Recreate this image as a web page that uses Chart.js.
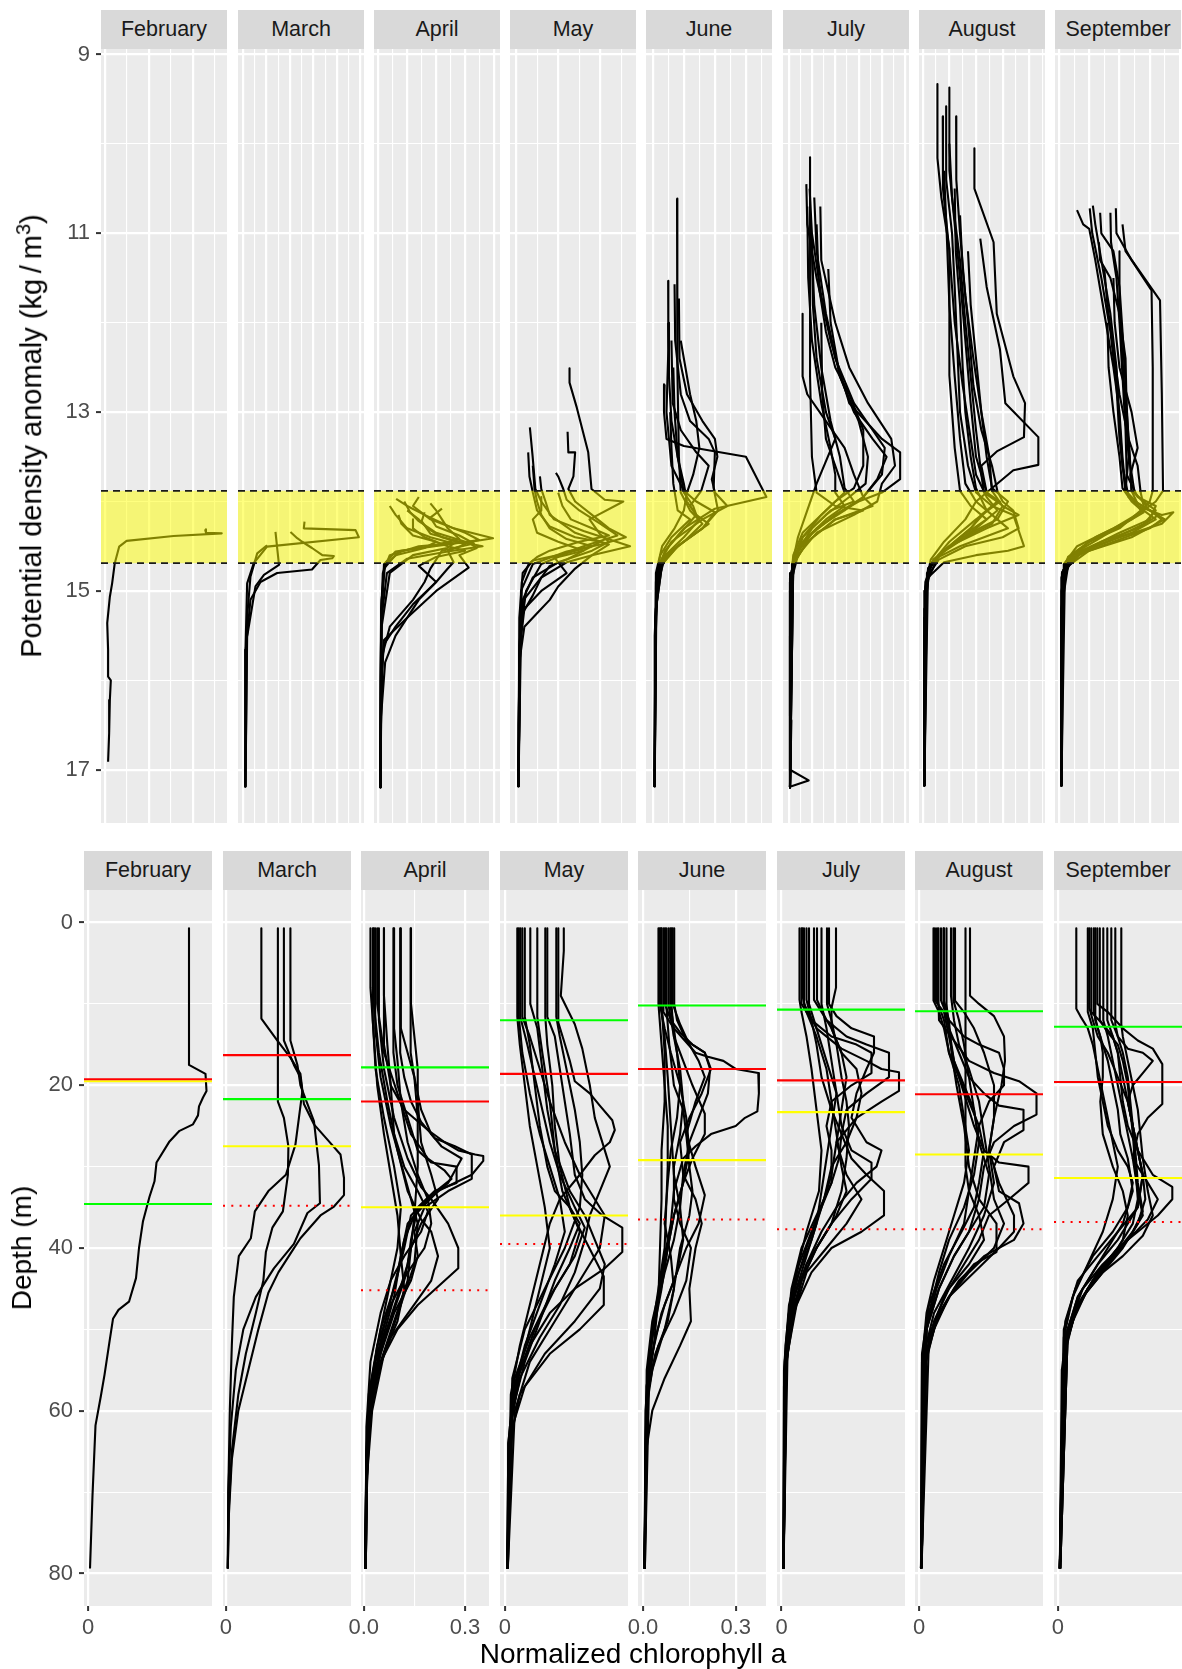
<!DOCTYPE html>
<html>
<head>
<meta charset="utf-8">
<script src="https://cdn.jsdelivr.net/npm/chart.js@4.4.1/dist/chart.umd.min.js"></script>
<style>
  body { margin: 0; background: #ffffff; width: 1182px; height: 1669px; position: relative; overflow: hidden;
         font-family: "Liberation Sans", Arial, Helvetica, sans-serif; }
  canvas { position: absolute; }
  .strip { position: absolute; background: #d9d9d9; color: #1a1a1a; font-size: 21.5px; text-align: center;
           height: 39px; line-height: 39px; white-space: nowrap; overflow: hidden; }
  .title { position: absolute; color: #000000; font-size: 28px; white-space: nowrap; }
  .title.big { font-size: 29px; }
  .title sup { font-size: 20px; }
</style>
</head>
<body>
<script>
// ---------- categories ----------
const months = ['February', 'March', 'April', 'May', 'June', 'July', 'August', 'September'];

// ---------- tick labels ----------
const densityTicks = [9, 11, 13, 15, 17];
const densityMinorTicks = [10, 12, 14, 16];
const depthTicks = [0, 20, 40, 60, 80];
const depthMinorTicks = [10, 30, 50, 70];
// labelled chlorophyll breaks on the lower row, per month
const chlBreaks = [[0], [0], [0, 0.3], [0], [0, 0.3], [0], [0], [0]];

// ---------- axis limits ----------
const densityRange = [8.9385, 17.596];
const depthRange = [-4, 84];
const chlRange = [[-0.008, 0.248], [-0.0056, 0.25], [-0.008, 0.371], [-0.0096, 0.2464],
                  [-0.0162, 0.398], [-0.009, 0.247], [-0.008, 0.248], [-0.0076, 0.2484]];
const sigChlRange = [[-0.0047, 0.139], [-0.011, 0.258], [-0.0072, 0.21], [-0.007, 0.142],
                     [-0.011, 0.192], [-0.012, 0.258], [-0.007, 0.2295], [-0.0066, 0.2017]];
const sigChlStep = [0.05, 0.05, 0.05, 0.05, 0.05, 0.05, 0.05, 0.05];

// ---------- density band (kg/m3) ----------
const bandLow = 13.88;
const bandHigh = 14.69;

// ---------- reference depths (m) ----------
const greenDepth  = [34.6, 21.7, 17.8, 12.0, 10.2, 10.7, 10.9, 12.8];
const redDepth    = [19.26, 16.3, 22.0, 18.6, 18.0, 19.4, 21.1, 19.6];
const yellowDepth = [19.5, 27.5, 35.0, 36.0, 29.2, 23.3, 28.5, 31.4];
const dottedDepth = [34.6, 34.8, 45.2, 39.5, 36.5, 37.7, 37.7, 36.8];

// ---------- chlorophyll profiles vs depth: [chl, depth, chl, depth, ...] ----------
const chlFeb = [
  [.202,0.7, .202,17.5, .235,18.6, .237,20.7, .23,21.5, .222,22.6, .22,23.7, .21,24.8, .183,25.6, .163,26.9, .137,29.5, .133,31.8, .123,33.7, .11,36.7, .102,40, .096,43.7, .082,46.6, .061,47.6, .05,48.7, .043,51.5, .033,55.6, .026,58.1, .015,61.8, .009,70.4, .004,79.4]
];
const chlMar = [
  [.071,0.7, .071,11.8, .103,14.5, .129,16.6, .149,18.6, .153,20.7, .146,24, .139,27.3, .12,31, .085,33, .058,35.5, .05,38.8, .026,41, .016,46, .012,52, .008,60, .005,70, .004,79.4],
  [.104,0.7, .104,22, .116,24, .125,27.5, .124,31, .114,35.5, .093,37.5, .08,40.5, .075,44, .06,48, .04,53, .025,58, .012,65, .006,72, .004,79.4],
  [.116,0.7, .116,14.5, .136,17.5, .149,19, .156,22.3, .176,24.8, .206,26.9, .229,28.5, .236,31.4, .236,33.5, .216,34.9, .189,36, .149,38.8, .131,40.5, .105,43, .085,45.5, .065,50, .045,55, .025,60, .012,66, .006,73, .004,79.4],
  [.129,0.7, .129,14.5, .143,17.5, .149,20, .163,22.3, .176,24.4, .186,29.8, .188,34.5, .163,35.7, .136,39.5, .096,42.5, .06,46, .035,50, .02,55, .01,62, .005,70, .004,79.4]
];
const chlApr = [
  [.027,.7, .027,12, .035,18, .06,24, .09,30, .11,35, .1,40, .07,46, .04,52, .02,58, .01,65, .006,79.4],
  [.034,.7, .034,13, .05,19, .08,25, .12,31, .16,37, .15,42, .11,47, .06,53, .025,60, .01,68, .006,79.4],
  [.040,.7, .040,10, .06,16, .1,21, .14,26, .19,29, .24,30.5, .26,31.5, .2,33.5, .14,36, .12,40, .09,45, .05,50, .02,57, .008,65, .005,79.4],
  [.060,.7, .060,15, .08,20, .12,23, .19,25.5, .24,27, .28,28, .33,28.5, .354,28.7, .354,29.3, .32,31, .22,33, .15,36, .12,39, .1,43, .07,48, .035,54, .015,60, .007,70, .005,79.4],
  [.088,.7, .088,16, .1,20, .13,24, .16,28, .2,29.5, .275,30, .275,32, .21,33, .16,35, .14,39, .13,42, .1,46, .06,51, .03,56, .012,63, .006,79.4],
  [.108,.7, .108,16, .12,19, .14,22, .17,24.5, .21,26.5, .27,27.5, .32,28.5, .32,31.5, .25,33, .18,35, .15,38, .16,41, .14,44, .09,48, .05,53, .02,59, .008,68, .005,79.4],
  [.139,.7, .139,16, .15,19, .16,24, .16,30, .15,36, .14,40, .13,44, .09,49, .05,54, .02,60, .008,70, .005,79.4],
  [.030,.7, .030,10, .045,16, .07,22, .1,28, .13,33, .17,36.5, .2,38, .22,41, .2,44, .14,47.5, .08,51, .035,56, .012,63, .006,79.4],
  [.045,.7, .045,12, .06,18, .09,24, .13,29, .17,32.5, .2,34, .25,37, .28,40, .28,42.5, .24,44, .16,47, .1,50, .05,54, .02,60, .007,70, .005,79.4],
  [.09,.7, .09,13, .1,17, .11,22, .13,27, .16,31, .19,34, .2,37, .18,40, .13,43, .08,47, .04,52, .015,58, .007,68, .005,79.4],
  [.11,.7, .11,13, .13,16, .15,19, .17,23, .2,26, .23,27.5, .29,29, .25,32, .18,34.5, .13,37, .11,41, .12,45, .1,49, .06,53, .03,57, .01,63, .005,79.4],
  [.06,.7, .06,9, .07,15, .08,20, .09,26, .12,30, .16,33, .19,35.5, .17,38, .12,41, .08,44, .05,48, .02,54, .008,62, .005,79.4],
  [.02,.7, .02,8, .03,14, .04,20, .06,26, .08,31, .1,36, .11,41, .09,46, .05,52, .02,58, .008,66, .004,79.4],
  [.14,.7, .14,10, .15,14, .16,18, .16,22, .17,27, .2,31, .22,34, .17,37, .14,40, .12,44, .07,50, .03,56, .01,62, .005,79.4]
];
const chlMay = [
  [.025,.7, .025,11.6, .03,15, .04,20, .05,25, .065,30, .08,35, .09,40, .07,45, .05,50, .03,55, .012,62, .005,79.4],
  [.028,.7, .028,11.6, .035,16, .05,21, .07,26, .09,30, .11,34, .12,38, .1,42, .07,47, .04,52, .015,58, .006,79.4],
  [.031,.7, .031,11.6, .045,15, .06,19, .075,23, .09,27, .11,31, .14,35, .16,37.5, .14,41, .1,45, .06,50, .025,56, .008,64, .005,79.4],
  [.035,.7, .035,11.6, .05,14, .07,18, .09,22, .12,27, .15,31, .18,34, .2,36, .19,40, .15,44, .1,49, .05,54, .02,60, .006,79.4],
  [.051,.7, .051,10, .065,13, .075,18, .085,23, .1,28, .13,33, .16,36, .18,39, .2,42, .19,45, .14,49, .08,53, .03,58, .01,64, .005,79.4],
  [.081,.7, .081,11.6, .085,15, .095,20, .1,25, .11,30, .13,35, .15,38, .13,42, .09,46, .05,51, .02,56, .007,64, .005,79.4],
  [.085,.7, .085,11.6, .1,14, .11,18, .12,22, .13,26, .14,31, .16,34, .195,36, .235,37.5, .235,40.5, .2,42.5, .14,45, .09,48, .05,52, .02,57, .007,64, .005,79.4],
  [.103,.7, .103,11.6, .11,14, .12,17, .13,20, .14,23, .15,27, .155,31, .15,35, .12,40, .08,45, .04,50, .015,56, .006,79.4],
  [.107,.7, .107,12.3, .118,14.5, .13,17, .14,19.5, .17,21, .19,22.5, .215,24.3, .22,25.5, .21,27, .18,28.6, .15,31, .11,34, .09,37, .07,42, .05,47, .03,52, .012,58, .005,79.4],
  [.118,.7, .118,3.5, .112,9, .14,12.5, .155,15.5, .17,20, .18,24, .2,28, .21,30, .19,33, .17,36, .16,39, .14,43, .11,47, .07,51, .03,56, .01,62, .005,79.4],
  [.04,.7, .04,11.6, .05,15, .06,20, .07,25, .085,30, .1,33, .13,35, .15,37, .13,40, .1,44, .07,49, .04,54, .015,60, .005,79.4],
  [.065,.7, .065,11.6, .075,16, .09,22, .1,28, .115,33, .14,36.5, .198,43.5, .198,47, .15,50, .09,53, .04,57, .015,62, .005,79.4]
];
const chlJun = [
  [.05,.7, .05,10, .06,15, .07,20, .08,25, .08,30, .075,35, .07,40, .05,45, .03,50, .015,56, .008,64, .005,79.4],
  [.054,.7, .054,10, .07,13, .09,16, .12,20, .14,24, .15,28, .13,32, .1,36, .08,40, .06,45, .03,51, .012,57, .005,79.4],
  [.066,.7, .066,11, .1,13, .17,16, .21,16.5, .26,17, .3,18, .373,18.5, .375,21, .37,23.2, .33,24, .3,25, .22,26, .17,27.5, .13,29, .1,33, .09,37, .07,41, .05,46, .03,51, .012,57, .005,79.4],
  [.071,.7, .071,10, .09,12, .12,13.5, .16,15, .2,16, .217,18, .21,21, .18,24, .15,27, .13,31, .12,35, .1,39, .07,43, .04,48, .02,54, .008,60, .005,79.4],
  [.082,.7, .082,10, .1,14, .12,18, .13,22, .12,26, .1,30, .1,34, .12,37, .155,40, .14,44, .1,48, .05,52, .02,56, .006,79.4],
  [.092,.7, .092,10, .1,14, .13,17, .16,20, .2,23.5, .2,26, .16,29, .13,32, .1,36, .08,40, .06,44, .03,49, .012,55, .005,79.4],
  [.101,.7, .101,10, .11,12, .14,14.5, .2,16, .22,18, .19,21, .15,24, .12,27, .13,31, .17,34, .19,37, .17,40, .15,45, .155,49, .12,52, .07,56, .03,60, .01,65, .005,79.4],
  [.06,.7, .06,10, .07,16, .07,22, .06,28, .06,34, .055,40, .05,46, .035,52, .015,58, .006,79.4],
  [.075,.7, .075,10, .085,15, .1,20, .13,23, .14,26, .15,30, .16,33, .15,36, .12,40, .1,45, .07,50, .03,55, .01,60, .005,79.4],
  [.088,.7, .088,10, .1,13, .11,16, .12,20, .11,24, .09,28, .08,32, .07,37, .09,41, .1,45, .08,49, .04,53, .015,58, .005,79.4],
  [.096,.7, .096,10, .12,12.5, .15,15, .18,17, .2,19, .17,22, .14,26, .17,30, .2,33.5, .18,37, .14,40, .1,44, .06,48, .03,53, .01,59, .005,79.4],
  [.058,.7, .058,10, .07,14, .08,19, .09,25, .1,31, .12,35, .13,39, .11,43, .07,47, .04,51, .015,56, .005,79.4]
];
const chlJul = [
  [.036,.7, .036,9.5, .04,11, .05,14, .06,18, .07,23, .08,28, .075,33, .05,38, .03,43, .015,48, .006,55, .004,79.4],
  [.04,.7, .04,10, .06,12, .1,14, .15,15, .18,16, .18,18.5, .14,20, .1,22, .09,25, .1,28, .1,32, .07,36, .04,40, .02,45, .008,52, .004,79.4],
  [.045,.7, .045,10, .07,13, .12,15.5, .17,17, .2,18, .235,18.4, .235,20.7, .2,22, .15,24, .11,27, .1,31, .08,35, .05,40, .025,45, .01,52, .004,79.4],
  [.055,.7, .055,10, .07,13, .09,17, .11,21, .12,25, .14,28, .18,29.5, .18,31.5, .14,34, .1,37, .07,40, .04,44, .02,49, .008,55, .004,79.4],
  [.071,.7, .071,9.5, .09,12, .13,14, .17,15, .215,16, .215,19, .17,21, .13,23, .12,26, .14,29, .17,31, .205,33, .205,36, .16,38, .1,40, .06,43, .03,47, .012,53, .004,79.4],
  [.091,.7, .091,10, .1,12, .11,15, .12,19, .13,22, .135,25, .13,29, .12,33, .1,37, .07,40, .04,44, .02,49, .007,56, .004,79.4],
  [.095,.7, .095,10, .11,11.5, .14,13, .185,14, .185,16, .17,18, .15,21, .14,24, .17,27, .2,28, .19,30, .15,32, .11,35, .08,38, .05,42, .025,47, .01,53, .004,79.4],
  [.109,.7, .109,8, .1,10.5, .1,13, .12,16, .15,18, .16,21, .15,24, .13,27, .1,30, .085,34, .06,38, .035,42, .015,47, .006,54, .004,79.4],
  [.05,.7, .05,9.5, .06,12, .07,15, .08,19, .1,23, .12,26, .115,29, .1,32, .08,35, .06,39, .035,43, .015,48, .005,55, .004,79.4],
  [.065,.7, .065,9.5, .08,11, .1,13, .12,16, .13,19, .12,23, .11,27, .13,31, .16,34, .13,37, .09,40, .05,43, .025,48, .01,54, .004,79.4],
  [.08,.7, .08,10, .09,13, .1,17, .11,21, .1,25, .09,29, .08,33, .07,37, .05,41, .03,45, .012,50, .005,57, .004,79.4],
  [.042,.7, .042,9, .05,11, .07,14, .09,18, .1,22, .11,26, .12,30, .13,33, .11,36, .08,39, .05,42, .025,46, .01,52, .004,79.4]
];
const chlAug = [
  [.029,.7, .029,9.6, .04,11, .05,13, .06,16, .08,20, .09,24, .1,28, .09,32, .07,36, .05,40, .03,44, .015,48, .006,54, .004,79.4],
  [.032,.7, .032,9.6, .05,11, .06,14, .07,17, .09,20, .11,23, .12,27, .14,31, .13,35, .1,38, .07,41, .04,45, .015,50, .005,79.4],
  [.039,.7, .039,9.6, .04,12, .07,14.5, .1,17, .15,18.5, .2,19.5, .235,21, .235,23.6, .19,25, .15,27, .13,30, .12,34, .1,38, .07,41, .04,45, .015,50, .005,79.4],
  [.044,.7, .044,9.6, .06,12, .09,14, .12,15, .16,16, .17,18, .17,20, .14,22, .12,25, .11,29, .1,33, .09,37, .06,41, .035,45, .015,50, .005,79.4],
  [.049,.7, .049,10, .06,13, .08,16, .1,19, .13,21, .16,22.5, .209,23, .209,25.5, .17,27, .15,30, .16,33, .2,34.5, .209,37, .19,39, .13,41, .08,44, .04,48, .015,53, .005,79.4],
  [.055,.7, .055,10, .06,13, .07,17, .09,21, .11,25, .13,28, .16,29.5, .219,30, .219,32, .18,34, .14,36, .12,39, .09,42, .05,46, .02,51, .005,79.4],
  [.064,.7, .064,9, .07,12, .08,15, .1,18, .12,22, .13,26, .14,30, .15,34, .17,37, .15,40, .1,43, .06,46, .03,50, .01,55, .004,79.4],
  [.069,.7, .069,9.6, .08,12, .09,15, .1,19, .11,23, .12,27, .11,31, .09,35, .06,39, .04,43, .02,48, .007,54, .004,79.4],
  [.072,.7, .072,9.6, .09,11, .11,13, .13,16, .15,20, .15,24, .14,28, .16,32, .19,36, .19,38, .16,40, .11,43, .06,46, .025,50, .008,56, .004,79.4],
  [.093,.7, .093,30, .1,33, .12,36, .13,39, .1,42, .06,45, .03,49, .01,54, .004,79.4],
  [.102,.7, .102,9, .12,10, .15,11.5, .17,14, .172,17, .165,20, .15,24, .14,28, .15,32, .13,36, .1,40, .065,44, .03,48, .01,53, .004,79.4],
  [.036,.7, .036,9.6, .05,12, .06,16, .08,19, .1,22, .12,25, .13,28, .12,32, .11,35, .085,38, .05,42, .02,47, .006,53, .004,79.4],
  [.05,.7, .05,9.6, .06,12, .065,16, .075,20, .09,25, .1,30, .12,34, .155,37, .155,40.5, .11,42, .07,45, .035,49, .012,54, .004,79.4]
];
const chlSep = [
  [.037,.7, .037,10.6, .045,11.5, .06,13, .07,15, .08,18, .09,21, .1,24, .11,27, .12,30, .11,34, .09,38, .06,42, .03,46, .012,51, .004,79.4],
  [.063,.7, .063,10.5, .07,12, .08,14, .1,16, .12,19, .14,22, .15,25, .16,28, .17,31, .16,35, .12,39, .08,42, .04,46, .015,51, .004,79.4],
  [.067,.7, .067,11, .09,12.5, .11,14, .12,16, .125,19, .13,22, .14,25, .16,28, .19,31, .229,32.5, .229,34, .2,36, .16,38, .12,40, .08,43, .04,47, .015,52, .004,79.4],
  [.072,.7, .072,11, .08,13, .09,15, .1,17, .11,20, .12,23, .125,26, .14,29, .15,33, .13,37, .1,40, .07,43, .04,46, .015,51, .004,79.4],
  [.079,.7, .079,10, .1,11, .13,13, .16,14.5, .19,15.5, .209,17.4, .209,22.3, .18,24, .16,26, .15,29, .16,33, .17,36, .14,39, .1,42, .06,45, .025,49, .008,55, .004,79.4],
  [.084,.7, .084,12, .1,13.5, .12,15, .13,17, .14,20, .145,23, .15,26, .155,30, .16,34, .15,37, .12,40, .08,43, .04,47, .015,52, .004,79.4],
  [.091,.7, .091,12, .1,14, .11,17, .12,20, .13,23, .14,26, .15,29, .18,32, .2,34, .18,36.5, .14,39, .09,42, .05,45, .02,50, .005,79.4],
  [.099,.7, .099,12, .11,14, .12,16, .13,19, .14,22, .15,25, .16,28, .17,31, .175,34, .16,37, .13,40, .09,43, .05,46, .02,50, .005,79.4],
  [.107,.7, .107,12, .12,14, .14,15.5, .17,16, .19,17, .17,18.5, .15,20, .14,22, .15,25, .16,28, .17,31, .16,35, .12,38, .08,41, .04,44, .015,49, .005,79.4],
  [.115,.7, .115,12.5, .12,14, .13,16, .14,19, .145,22, .15,25, .155,28, .16,32, .17,35.5, .15,38, .11,41, .07,44, .035,48, .012,53, .004,79.4],
  [.127,.7, .127,12.5, .13,14, .14,17, .15,20, .16,23, .165,26, .17,29, .18,33, .19,36, .17,38.5, .13,41, .09,43, .05,46, .02,50, .005,79.4],
  [.075,.7, .075,12, .085,14, .09,16, .09,19, .085,22, .09,26, .11,30, .13,33, .14,36, .13,39, .1,42, .06,45, .03,49, .01,54, .004,79.4],
  [.06,.7, .06,11, .07,13, .075,16, .08,19, .09,22, .1,25, .12,28, .14,30, .15,32, .14,35, .11,38, .07,41, .035,45, .012,50, .004,79.4]
];

// ---------- chlorophyll profiles vs potential density anomaly: [chl, sigma, ...] ----------
const sigFeb = [
  [.114,14.31, .115,14.35, .133,14.356, .078,14.386, .0245,14.44, .016,14.505, .011,14.69, .008,14.915, .0054,15.065, .0024,15.36, .0034,15.66, .0034,15.96, .0065,16.0, .0054,16.22, .0046,16.59, .0034,16.91]
];
const sigMar = [
  [.131,14.226, .1295,14.30, .24,14.32, .247,14.40, .051,14.505, .0227,14.69, .0085,14.915, .005,15.66, .005,17.19],
  [.069,14.34, .0765,14.71, .0444,14.82, .0263,14.95, .0085,15.51, .005,17.19],
  [.101,14.34, .1154,14.41, .126,14.45, .147,14.52, .169,14.60, .1936,14.61, .19,14.635, .165,14.655, .147,14.76, .0726,14.80, .037,14.90, .0156,15.10, .0055,15.66, .0043,17.19],
  [.051,14.49, .03,14.58, .0156,14.84, .0085,15.29, .0049,17.19]
];
const sigApr = [
  [.031,13.97, .05,14.05, .08,14.15, .13,14.3, .198,14.41, .16,14.45, .07,14.5, .02,14.6, .008,14.8, .005,15.3, .004,16.5, .004,17.2],
  [.07,13.95, .06,14.05, .09,14.2, .15,14.35, .174,14.43, .12,14.48, .04,14.55, .012,14.7, .006,15.1, .004,16, .004,17.2],
  [.045,14.0, .055,14.12, .07,14.22, .1,14.35, .156,14.46, .17,14.52, .14,14.6, .156,14.74, .10,15.0, .05,15.3, .01,15.55, .005,16, .004,17.2],
  [.09,14.02, .1,14.1, .11,14.2, .12,14.3, .14,14.42, .09,14.5, .03,14.56, .01,14.7, .005,15.5, .004,17.2],
  [.02,14.05, .03,14.15, .05,14.3, .09,14.4, .13,14.47, .119,14.52, .06,14.6, .02,14.8, .006,15.4, .004,17.2],
  [.11,14.08, .09,14.18, .1,14.28, .14,14.38, .165,14.47, .11,14.55, .09,14.75, .08,14.9, .06,15.1, .02,15.4, .008,15.7, .005,16.5, .004,17.2],
  [.05,14.1, .07,14.2, .085,14.3, .11,14.4, .15,14.48, .12,14.55, .13,14.68, .12,14.75, .1,14.9, .06,15.15, .03,15.4, .01,15.6, .005,16, .004,17.2],
  [.035,14.15, .04,14.25, .06,14.38, .1,14.45, .08,14.52, .03,14.6, .01,14.75, .005,15.2, .004,17.2],
  [.08,14.12, .075,14.22, .09,14.36, .14,14.45, .18,14.5, .12,14.56, .05,14.64, .015,14.8, .006,15.3, .004,17.2],
  [.06,14.2, .06,14.3, .08,14.4, .12,14.5, .15,14.55, .1,14.62, .07,14.72, .1,14.9, .07,15.1, .03,15.5, .012,15.8, .005,16.4, .004,17.2]
];
const sigMay = [
  [.0634,12.51, .0634,12.67, .072,12.95, .0855,13.45, .0894,13.86, .105,13.98, .127,14.0, .087,14.2, .099,14.36, .11,14.45, .09,14.55, .05,14.68, .02,14.85, .008,15.1, .005,15.6, .003,16.5, .003,17.19],
  [.0165,13.17, .0197,13.49, .023,13.86, .03,14.0, .045,14.2, .08,14.33, .135,14.5, .09,14.6, .06,14.68, .03,14.85, .01,15.09, .005,15.6, .003,17.19],
  [.0145,13.45, .016,13.72, .02,13.9, .025,14.1, .04,14.28, .07,14.4, .1,14.45, .08,14.55, .05,14.62, .03,14.7, .012,15.0, .005,15.5, .003,17.19],
  [.0611,13.22, .062,13.45, .07,13.45, .068,13.72, .062,13.86, .07,14.0, .09,14.15, .11,14.3, .13,14.4, .1,14.48, .06,14.56, .02,14.7, .006,15.0, .003,17.19],
  [.0473,13.68, .05,13.72, .056,13.86, .06,13.98, .075,14.1, .1,14.25, .12,14.38, .08,14.5, .045,14.62, .06,14.8, .03,15.0, .01,15.2, .005,15.6, .003,17.19],
  [.0284,13.72, .03,13.86, .035,14.0, .04,14.15, .07,14.35, .11,14.48, .09,14.6, .07,14.75, .05,14.95, .04,15.1, .025,15.25, .01,15.4, .004,15.8, .003,17.19],
  [.02,13.6, .022,13.86, .025,14.0, .03,14.15, .04,14.3, .06,14.42, .09,14.5, .06,14.58, .02,14.66, .008,14.8, .004,15.3, .003,17.19],
  [.05,13.9, .055,14.05, .065,14.2, .09,14.3, .11,14.38, .075,14.45, .04,14.55, .025,14.62, .015,14.7, .007,14.9, .003,17.19],
  [.03,13.95, .03,14.1, .02,14.2, .025,14.35, .05,14.45, .08,14.55, .06,14.65, .04,14.72, .03,14.85, .02,15.05, .008,15.25, .004,15.6, .003,17.19]
];
const sigJun = [
  [.039,10.61, .039,11.5, .04,12.5, .042,13.5, .045,13.9, .06,14.1, .08,14.25, .05,14.45, .02,14.62, .008,14.9, .004,15.6, .003,17.19],
  [.0247,11.53, .025,12.3, .022,13.0, .03,13.6, .05,13.88, .07,14.0, .1,14.12, .08,14.3, .04,14.5, .015,14.7, .005,15.2, .003,17.19],
  [.035,11.57, .036,12.2, .045,12.8, .06,13.1, .09,13.3, .1,13.45, .098,13.85, .105,14.1, .08,14.3, .04,14.5, .015,14.7, .005,15.2, .003,17.19],
  [.042,11.73, .043,12.4, .055,12.8, .08,13.1, .1,13.3, .104,13.5, .095,13.75, .1,13.9, .12,14.05, .08,14.2, .03,14.45, .01,14.7, .004,15.3, .003,17.19],
  [.019,12.69, .018,13.0, .022,13.3, .05,13.38, .15,13.5, .183,13.95, .1,14.08, .05,14.3, .02,14.55, .008,14.8, .004,15.4, .003,17.19],
  [.03,12.2, .032,12.9, .045,13.2, .07,13.45, .09,13.6, .078,13.88, .06,14.05, .075,14.2, .05,14.4, .02,14.6, .006,14.9, .003,17.19],
  [.0247,12.0, .026,12.6, .03,13.1, .04,13.5, .05,13.8, .055,14.0, .07,14.15, .09,14.25, .06,14.4, .03,14.55, .01,14.75, .004,15.4, .003,17.19],
  [.045,12.2, .06,12.8, .07,13.1, .075,13.4, .065,13.7, .055,13.9, .05,14.1, .035,14.3, .015,14.5, .005,14.8, .003,17.19],
  [.033,12.5, .035,13.0, .04,13.5, .05,13.9, .065,14.05, .07,14.15, .045,14.35, .02,14.55, .008,14.75, .003,15.5, .003,17.19],
  [.028,13.0, .03,13.4, .033,13.8, .04,14.1, .06,14.2, .03,14.4, .012,14.6, .005,14.9, .003,17.19]
];
const sigJul = [
  [.046,10.15, .046,12.6, .05,13.5, .06,13.9, .1,14.05, .16,14.1, .1,14.2, .04,14.45, .01,14.7, .004,15.5, .003,17.2],
  [.038,10.45, .04,10.9, .06,11.5, .09,12.2, .13,12.9, .2,13.3, .239,13.45, .239,13.75, .2,13.9, .15,14.0, .1,14.15, .05,14.35, .015,14.6, .005,15.0, .003,17.2],
  [.045,10.5, .05,11.0, .07,11.7, .1,12.4, .14,12.9, .18,13.2, .206,13.4, .2,13.7, .16,13.95, .18,14.05, .1,14.2, .04,14.45, .01,14.7, .003,17.2],
  [.055,10.6, .06,11.2, .08,11.9, .11,12.6, .15,13.1, .17,13.5, .165,13.8, .13,13.95, .08,14.15, .03,14.4, .008,14.7, .003,17.2],
  [.068,10.7, .07,11.3, .1,12.0, .13,12.5, .17,12.9, .22,13.3, .228,13.6, .2,13.8, .19,14.0, .14,14.15, .06,14.35, .02,14.6, .005,14.9, .003,17.2],
  [.04,10.7, .042,11.5, .05,12.2, .07,12.9, .09,13.4, .1,13.7, .1,13.9, .12,14.05, .08,14.2, .03,14.45, .008,14.7, .003,17.2],
  [.03,11.9, .03,12.6, .04,12.8, .08,13.1, .12,13.4, .14,13.7, .16,13.95, .1,14.15, .04,14.4, .01,14.65, .003,17.2],
  [.06,10.9, .065,11.6, .08,12.1, .1,12.5, .13,12.8, .16,13.2, .16,13.6, .14,13.85, .1,14.0, .07,14.15, .03,14.4, .01,14.65, .003,17.2],
  [.05,11.2, .055,11.8, .07,12.5, .09,13.1, .11,13.5, .12,13.85, .14,14.0, .09,14.1, .05,14.3, .02,14.55, .005,14.8, .003,17.2],
  [.085,11.4, .09,12.0, .11,12.6, .14,13.0, .18,13.3, .21,13.5, .19,13.75, .16,13.95, .12,14.1, .06,14.3, .02,14.55, .005,14.85, .003,17.2],
  [.05,11.0, .052,11.8, .06,12.4, .08,13.0, .1,13.3, .06,13.8, .04,14.1, .02,14.4, .008,14.7, .004,15.1, .003,16.4, .006,16.45, .003,17.2],
  [.07,12.0, .072,12.8, .08,13.3, .1,13.6, .12,13.9, .08,14.1, .03,14.35, .01,14.6, .005,14.9, .003,15.6, .003,17.0, .043,17.12, .003,17.19]
];
const sigAug = [
  [.0276,9.33, .0276,10.16, .035,10.6, .05,11.17, .05,12.59, .06,13.4, .07,13.88, .09,14.05, .12,14.2, .07,14.4, .03,14.6, .008,14.9, .004,15.5, .003,17.18],
  [.05,9.37, .05,10.3, .06,10.9, .07,11.5, .08,12.2, .09,12.9, .1,13.5, .12,13.9, .145,14.0, .1,14.2, .05,14.45, .015,14.7, .005,15.1, .003,17.18],
  [.044,9.58, .044,10.4, .055,11.0, .06,11.6, .065,12.3, .07,13.0, .085,13.6, .1,13.9, .13,14.05, .17,14.15, .19,14.5, .16,14.55, .1,14.6, .04,14.68, .01,14.85, .004,15.3, .003,17.18],
  [.0376,9.69, .038,10.5, .05,11.2, .06,12.0, .075,12.7, .09,13.3, .1,13.7, .12,13.95, .14,14.1, .1,14.3, .04,14.55, .01,14.75, .004,15.2, .003,17.18],
  [.0627,9.69, .063,10.4, .07,11.0, .08,11.7, .095,12.4, .11,13.0, .125,13.5, .13,13.88, .15,14.05, .13,14.25, .08,14.4, .03,14.6, .008,14.8, .003,17.18],
  [.097,10.05, .097,10.5, .133,11.1, .139,11.9, .17,12.6, .192,12.9, .19,13.28, .139,13.44, .11,13.6, .12,13.9, .15,14.05, .18,14.15, .12,14.3, .05,14.5, .015,14.7, .005,15.0, .003,17.18],
  [.05,10.0, .055,10.6, .07,11.3, .08,12.0, .09,12.6, .1,13.2, .11,13.7, .115,13.9, .14,14.0, .11,14.15, .09,14.3, .05,14.5, .015,14.7, .004,15.0, .003,17.18],
  [.108,11.06, .12,11.6, .145,12.3, .155,12.9, .217,13.28, .217,13.59, .17,13.65, .1,14.0, .13,14.15, .16,14.3, .07,14.5, .02,14.65, .005,14.9, .003,17.18],
  [.07,10.8, .075,11.4, .085,12.0, .095,12.7, .11,13.2, .13,13.6, .14,13.88, .15,14.0, .17,14.1, .18,14.3, .15,14.4, .08,14.5, .03,14.65, .008,14.85, .003,17.18],
  [.06,10.5, .062,11.2, .07,11.8, .075,12.5, .08,13.0, .09,13.5, .1,13.85, .12,14.1, .09,14.3, .05,14.5, .02,14.65, .006,14.9, .003,17.18],
  [.04,10.3, .045,11.0, .05,11.8, .06,12.6, .07,13.3, .08,13.8, .1,14.0, .08,14.2, .04,14.45, .015,14.65, .005,14.95, .003,17.18],
  [.085,11.2, .09,11.8, .1,12.4, .11,13.0, .12,13.5, .13,13.85, .16,14.0, .14,14.2, .09,14.35, .04,14.55, .01,14.75, .003,17.18]
];
const sigSep = [
  [.0298,10.74, .04,10.9, .05,10.95, .06,11.3, .075,11.9, .09,12.5, .1,13.0, .105,13.5, .11,13.88, .13,14.05, .16,14.2, .12,14.35, .06,14.5, .02,14.65, .006,14.9, .004,15.5, .004,17.18],
  [.0508,10.72, .055,11.0, .07,11.5, .085,12.1, .095,12.7, .1,13.3, .11,13.88, .13,14.05, .17,14.15, .189,14.12, .17,14.25, .1,14.4, .04,14.55, .012,14.75, .004,15.2, .004,17.18],
  [.056,10.69, .06,10.9, .07,11.3, .085,11.9, .095,12.5, .1,13.1, .105,13.6, .115,13.95, .15,14.1, .175,14.2, .12,14.4, .05,14.55, .015,14.72, .004,15.2, .004,17.18],
  [.068,10.77, .07,11.0, .09,11.2, .1,11.6, .105,12.1, .11,12.7, .115,13.3, .12,13.88, .14,14.0, .16,14.1, .14,14.25, .08,14.45, .025,14.6, .006,14.85, .004,17.18],
  [.085,10.77, .086,11.1, .095,11.5, .1,12.0, .105,12.6, .11,13.2, .112,13.7, .13,13.95, .16,14.05, .15,14.2, .1,14.35, .04,14.55, .01,14.7, .004,17.18],
  [.094,10.72, .095,11.0, .12,11.3, .153,11.64, .155,12.5, .155,13.88, .15,14.0, .13,14.15, .07,14.4, .02,14.6, .005,14.8, .004,17.18],
  [.105,10.9, .11,11.2, .167,11.75, .17,12.8, .172,13.88, .16,14.0, .14,14.1, .09,14.3, .03,14.5, .008,14.7, .004,17.18],
  [.066,11.1, .068,11.3, .085,11.5, .1,11.9, .11,12.4, .112,13.0, .118,13.6, .125,13.9, .145,14.05, .12,14.2, .06,14.4, .02,14.6, .005,14.8, .004,17.18],
  [.075,11.4, .08,11.8, .09,12.3, .1,12.8, .115,13.3, .13,13.6, .135,13.9, .14,14.05, .17,14.2, .15,14.3, .09,14.45, .03,14.6, .006,14.8, .004,17.18],
  [.09,11.5, .092,12.0, .1,12.5, .12,13.0, .13,13.4, .118,13.7, .12,13.88, .135,14.1, .1,14.3, .05,14.45, .015,14.65, .004,15.0, .004,17.18],
  [.1,11.2, .1,11.8, .105,12.4, .11,13.0, .115,13.5, .11,13.88, .13,14.02, .165,14.15, .13,14.3, .07,14.45, .02,14.6, .005,14.8, .004,17.18],
  [.08,12.0, .082,12.5, .09,13.0, .1,13.5, .105,13.85, .12,14.0, .14,14.12, .1,14.28, .05,14.45, .015,14.62, .004,14.85, .004,17.18]
];

const chlProfiles = [chlFeb, chlMar, chlApr, chlMay, chlJun, chlJul, chlAug, chlSep];
const sigProfiles = [sigFeb, sigMar, sigApr, sigMay, sigJun, sigJul, sigAug, sigSep];

// ---------- page layout ----------
const FONT = '"Liberation Sans", Arial, Helvetica, sans-serif';
const topRow = { left: 101.2, pitch: 136.3, width: 126, stripTop: 10, top: 49, height: 774 };
const botRow = { left: 84, pitch: 138.5, width: 128, stripTop: 851, top: 890, height: 716 };

Chart.defaults.font.family = FONT;

const panelBackground = {
  id: 'panelBackground',
  beforeDraw(chart) {
    const a = chart.chartArea, c = chart.ctx;
    c.save();
    c.fillStyle = '#ebebeb';
    c.fillRect(a.left, a.top, a.right - a.left, a.bottom - a.top);
    c.restore();
  }
};

// translucent density band with dashed limits, painted over the profiles
const densityBand = {
  id: 'densityBand',
  afterDatasetsDraw(chart) {
    const a = chart.chartArea, c = chart.ctx, y = chart.scales.y;
    const y1 = y.getPixelForValue(bandLow), y2 = y.getPixelForValue(bandHigh);
    c.save();
    c.fillStyle = 'rgba(255,255,0,0.5)';
    c.fillRect(a.left, y1, a.right - a.left, y2 - y1);
    c.strokeStyle = '#1a1a1a';
    c.lineWidth = 1.8;
    c.setLineDash([7, 5]);
    [y1, y2].forEach(p => { c.beginPath(); c.moveTo(a.left, p); c.lineTo(a.right, p); c.stroke(); });
    c.restore();
  }
};

function pairs(flat) {
  const pts = [];
  for (let i = 0; i < flat.length; i += 2) pts.push({ x: flat[i], y: flat[i + 1] });
  return pts;
}

function profileSet(flat) {
  return { data: pairs(flat), showLine: true, borderColor: '#000000', borderWidth: 2.1,
           pointRadius: 0, borderJoinStyle: 'round', tension: 0 };
}

function hline(depth, range, color, dash) {
  return { data: [{ x: range[0], y: depth }, { x: range[1], y: depth }], showLine: true,
           borderColor: color, borderWidth: 2.1, pointRadius: 0, borderDash: dash || [] };
}

function axis(pos, range, ticks, show, size, reverse) {
  return {
    type: 'linear', position: pos, min: range[0], max: range[1], reverse: !!reverse,
    afterBuildTicks: s => { s.ticks = ticks.map(t => ({ value: t.value, minor: t.minor, text: t.text })); },
    afterFit: s => { if (pos === 'bottom') s.height = size; else s.width = size; },
    grid: {
      color: '#ffffff',
      lineWidth: c => (c.tick && c.tick.minor ? 1.1 : 2.2),
      drawTicks: show, tickLength: 5, tickWidth: 2,
      tickColor: c => (c.tick && c.tick.minor ? 'rgba(0,0,0,0)' : '#333333')
    },
    border: { display: false },
    ticks: { display: show, autoSkip: false, maxRotation: 0, minRotation: 0, padding: pos === 'bottom' ? 4 : 6,
             color: '#4d4d4d', font: { size: 22, family: FONT },
             callback: (v, i, t) => (t[i] && t[i].text) || '' }
  };
}

function addStrip(label, left, top, width) {
  const d = document.createElement('div');
  d.className = 'strip';
  d.textContent = label;
  Object.assign(d.style, { left: left + 'px', top: top + 'px', width: width + 'px' });
  document.body.appendChild(d);
}

function addPanel(p) {
  const mL = p.showY ? p.left : 30, mR = 14, mT = 30, mB = p.showX ? 62 : 30;
  const yW = p.showY ? 40 : 0, xH = p.showX ? 40 : 0;
  const cv = document.createElement('canvas');
  cv.width = p.width + mL + mR;
  cv.height = p.height + mT + mB;
  cv.style.left = (p.left - mL) + 'px';
  cv.style.top = (p.top - mT) + 'px';
  document.body.appendChild(cv);
  new Chart(cv, {
    type: 'scatter',
    data: { datasets: p.datasets },
    options: {
      responsive: false, animation: false, devicePixelRatio: 1, events: [],
      layout: { padding: { left: mL - yW, right: mR, top: mT, bottom: mB - xH } },
      plugins: { legend: { display: false }, tooltip: { enabled: false } },
      scales: {
        x: axis('bottom', p.xRange, p.xTicks, p.showX, xH, false),
        y: axis('left', p.yRange, p.yTicks, p.showY, yW, true)
      }
    },
    plugins: [panelBackground].concat(p.extra || [])
  });
}

const densityTickList = densityTicks.map(v => ({ value: v, minor: false, text: String(v) }))
  .concat(densityMinorTicks.map(v => ({ value: v, minor: true, text: '' })));
const depthTickList = depthTicks.map(v => ({ value: v, minor: false, text: String(v) }))
  .concat(depthMinorTicks.map(v => ({ value: v, minor: true, text: '' })));

months.forEach((m, i) => {
  // upper row: chlorophyll against potential density anomaly
  const tl = Math.round(topRow.left + i * topRow.pitch);
  addStrip(m, tl, topRow.stripTop, topRow.width);
  const sr = sigChlRange[i], step = sigChlStep[i] / 2;
  const sigXTicks = [];
  for (let k = 0; k * step <= sr[1] + 1e-9; k++) sigXTicks.push({ value: +(k * step).toFixed(4), minor: k % 2 === 1, text: '' });
  addPanel({
    left: tl, top: topRow.top, width: topRow.width, height: topRow.height,
    xRange: sr, yRange: densityRange, xTicks: sigXTicks, yTicks: densityTickList,
    showX: false, showY: i === 0,
    datasets: sigProfiles[i].map(profileSet),
    extra: [densityBand]
  });

  // lower row: chlorophyll against depth
  const bl = Math.round(botRow.left + i * botRow.pitch);
  addStrip(m, bl, botRow.stripTop, botRow.width);
  const br = chlBreaks[i];
  const chlXTicks = br.map(v => ({ value: v, minor: false, text: br.length > 1 ? v.toFixed(1) : String(v) }));
  if (br.length > 1) chlXTicks.push({ value: (br[0] + br[1]) / 2, minor: true, text: '' });
  const cr = chlRange[i];
  addPanel({
    left: bl, top: botRow.top, width: botRow.width, height: botRow.height,
    xRange: cr, yRange: depthRange, xTicks: chlXTicks, yTicks: depthTickList,
    showX: true, showY: i === 0,
    datasets: [
      hline(greenDepth[i], cr, '#00ff00'),
      hline(redDepth[i], cr, '#ff0000'),
      hline(yellowDepth[i], cr, '#ffff00'),
      hline(dottedDepth[i], cr, '#ff0000', [2, 6.3])
    ].concat(chlProfiles[i].map(profileSet))
  });
});

// axis titles
function addTitle(html, cx, cy, rotate, cls) {
  const d = document.createElement('div');
  d.className = 'title' + (cls ? ' ' + cls : '');
  d.innerHTML = html;
  Object.assign(d.style, { left: cx + 'px', top: cy + 'px',
    transform: 'translate(-50%,-50%)' + (rotate ? ' rotate(-90deg)' : '') });
  document.body.appendChild(d);
}
addTitle('Potential density anomaly (kg&thinsp;/&thinsp;m<sup>3</sup>)', 30, 436, true, 'big');
addTitle('Depth (m)', 22, 1248, true);
addTitle('Normalized chlorophyll a', 633, 1654, false);
</script>
</body>
</html>
